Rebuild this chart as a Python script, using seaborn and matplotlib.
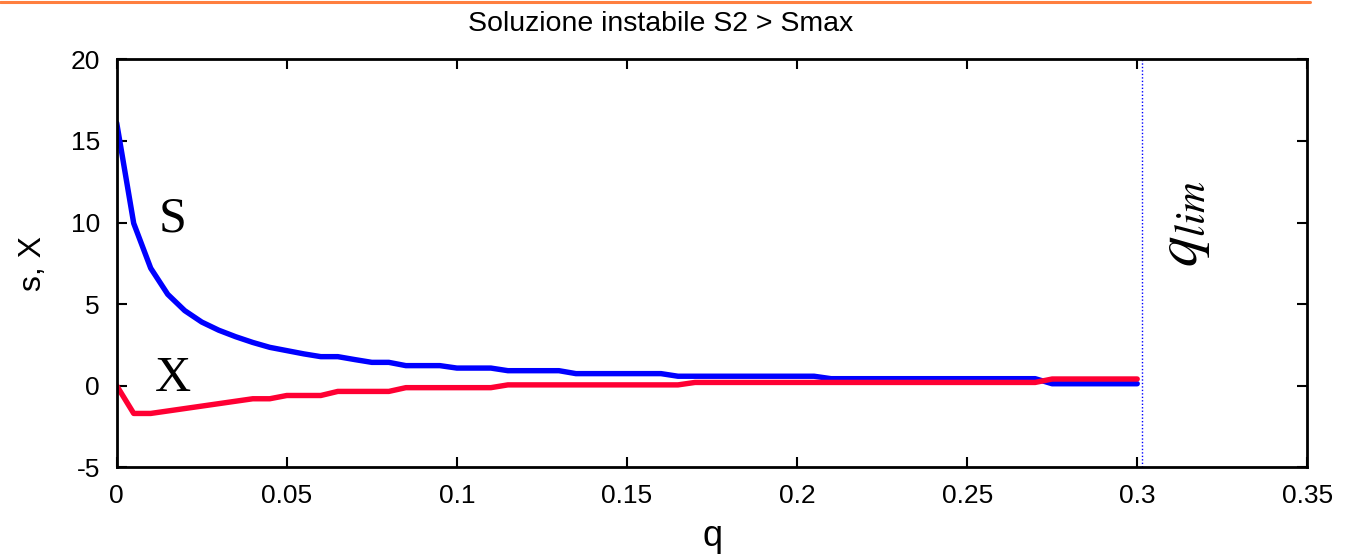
import numpy as np
import pandas as pd
import matplotlib
matplotlib.use("Agg")
import matplotlib.pyplot as plt
import seaborn as sns

# ---- data ----
q_values = [0.000, 0.005, 0.010, 0.015, 0.020, 0.025, 0.030, 0.035, 0.040, 0.045,
            0.050, 0.055, 0.060, 0.065, 0.070, 0.075, 0.080, 0.085, 0.090, 0.095,
            0.100, 0.105, 0.110, 0.115, 0.120, 0.125, 0.130, 0.135, 0.140, 0.145,
            0.150, 0.155, 0.160, 0.165, 0.170, 0.175, 0.180, 0.185, 0.190, 0.195,
            0.200, 0.205, 0.210, 0.215, 0.220, 0.225, 0.230, 0.235, 0.240, 0.245,
            0.250, 0.255, 0.260, 0.265, 0.270, 0.275, 0.280, 0.285, 0.290, 0.295,
            0.300]
S_values = [16.1, 9.95, 7.2, 5.6, 4.6, 3.9, 3.4, 3.0, 2.65, 2.35,
            2.15, 1.95, 1.78, 1.78, 1.6, 1.43, 1.43, 1.23, 1.23, 1.23,
            1.08, 1.08, 1.08, 0.92, 0.92, 0.92, 0.92, 0.74, 0.74, 0.74,
            0.74, 0.74, 0.74, 0.58, 0.58, 0.58, 0.58, 0.58, 0.58, 0.58,
            0.58, 0.58, 0.43, 0.43, 0.43, 0.43, 0.43, 0.43, 0.43, 0.43,
            0.43, 0.43, 0.43, 0.43, 0.43, 0.12, 0.12, 0.12, 0.12, 0.12,
            0.12]
X_values = [0.0, -1.7, -1.7, -1.55, -1.4, -1.25, -1.1, -0.95, -0.8, -0.8,
            -0.6, -0.6, -0.6, -0.35, -0.35, -0.35, -0.35, -0.12, -0.12, -0.12,
            -0.12, -0.12, -0.12, 0.05, 0.05, 0.05, 0.05, 0.05, 0.05, 0.05,
            0.05, 0.05, 0.05, 0.05, 0.2, 0.2, 0.2, 0.2, 0.2, 0.2,
            0.2, 0.2, 0.2, 0.2, 0.2, 0.2, 0.2, 0.2, 0.2, 0.2,
            0.2, 0.2, 0.2, 0.2, 0.2, 0.41, 0.41, 0.41, 0.41, 0.41,
            0.41]
q_lim = 0.3015
x_ticks = [0, 0.05, 0.1, 0.15, 0.2, 0.25, 0.3, 0.35]
x_tick_labels = ["0", "0.05", "0.1", "0.15", "0.2", "0.25", "0.3", "0.35"]
y_ticks = [-5, 0, 5, 10, 15, 20]
y_tick_labels = ["-5", "0", "5", "10", "15", "20"]

sns.set_theme(style="ticks")
plt.rcParams['font.family'] = ['Liberation Sans', 'DejaVu Sans']
plt.rcParams['text.color'] = 'black'
plt.rcParams['axes.labelcolor'] = 'black'

fig = plt.figure(figsize=(13.51, 5.56), dpi=100)
ax = fig.add_axes([116.7 / 1351, 1 - 467.3 / 556, (1307.3 - 116.7) / 1351, (467.3 - 59.3) / 556])

df = pd.DataFrame({"q": q_values, "S": S_values, "X": X_values})
sns.lineplot(data=df, x="q", y="S", ax=ax, color="#0000FF", linewidth=3.9, sort=False)
sns.lineplot(data=df, x="q", y="X", ax=ax, color="#FF0033", linewidth=3.9, sort=False)
ax.axvline(q_lim, color="#0000FF", linestyle=(0, (1, 1.5)), linewidth=1.0)

ax.set_xlim(0, 0.35)
ax.set_ylim(-5, 20)
ax.set_xticks(x_ticks)
ax.set_xticklabels(x_tick_labels)
ax.set_yticks(y_ticks)
ax.set_yticklabels(y_tick_labels)
ax.tick_params(direction="in", length=7, width=1.5, top=True, right=True,
               labelsize=19, pad=12, colors="black")
for sp in ax.spines.values():
    sp.set_linewidth(2.0)
    sp.set_color("black")
    sp.set_visible(True)

ax.set_xlabel("q", fontsize=26, labelpad=8)
ax.set_ylabel("s, X", fontsize=23, labelpad=16)

ax.text(0.0165, 10.2, "S", fontsize=36, family=["Liberation Serif"], ha="center", va="center",
        color="black")
ax.text(0.0165, 0.4, "X", fontsize=36, family=["Liberation Serif"], ha="center", va="center",
        color="black")
ax.text(0.3136, 9.9, r"$q_{lim}$", fontsize=44, rotation=90, ha="center", va="center",
        math_fontfamily="stix", color="black")

fig.text(661 / 1351, 1 - 24 / 556, "Soluzione instabile S2 > Smax", fontsize=20.5,
         ha="center", va="center", color="black")
fig.add_artist(plt.Line2D([0, 1310 / 1351], [1 - 1.5 / 556, 1 - 1.5 / 556],
                          color="#FF7F3F", linewidth=2.2, transform=fig.transFigure))

fig.savefig("out.png", dpi=100)
